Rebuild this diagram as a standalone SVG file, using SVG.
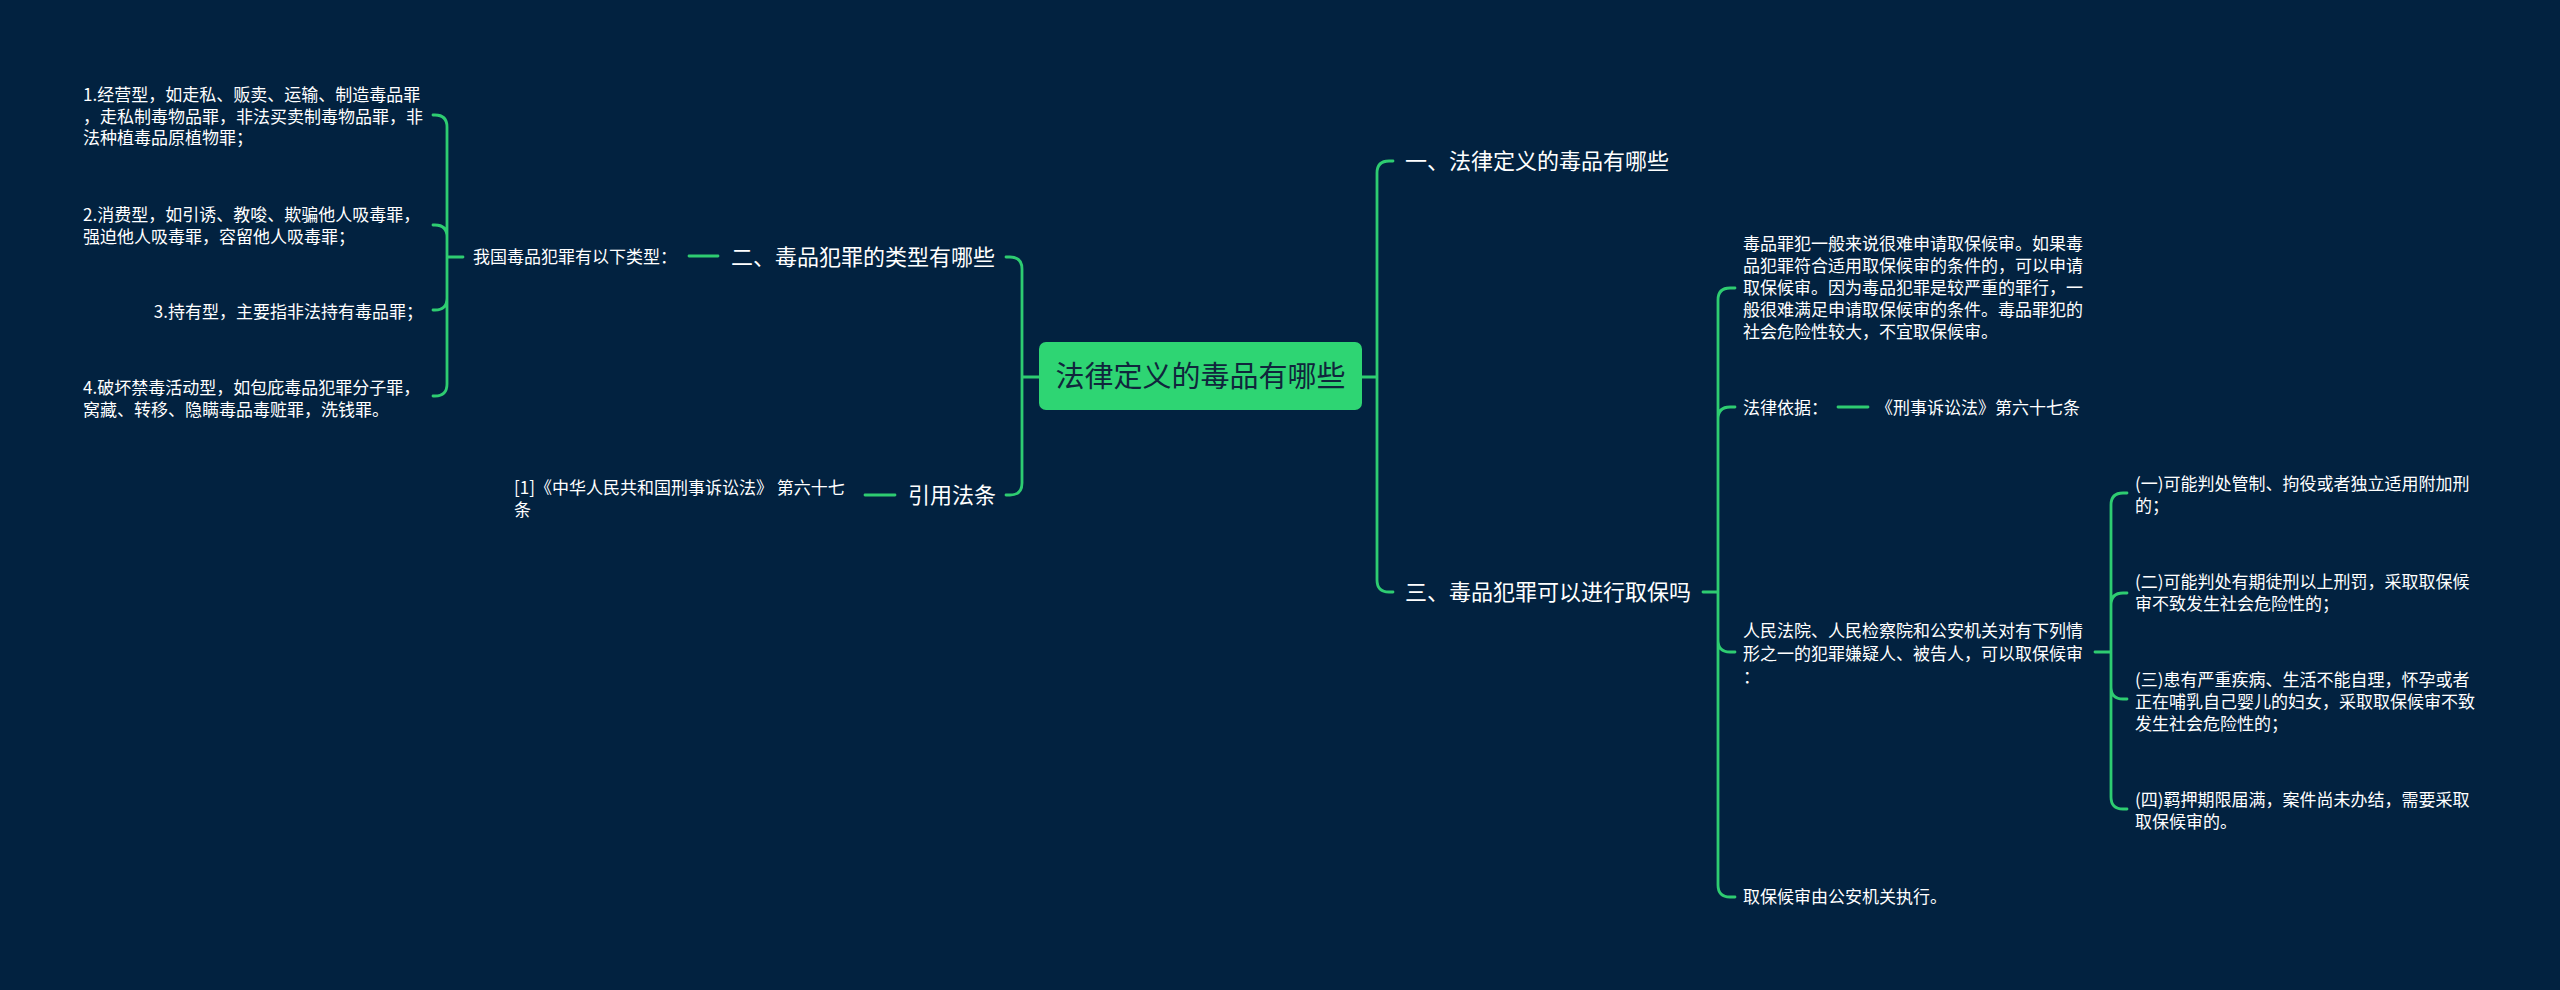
<svg xmlns="http://www.w3.org/2000/svg" width="2560" height="990" viewBox="0 0 2560 990">
<style>
.t{font-family:"Noto Sans CJK SC","Microsoft YaHei",sans-serif;fill:#ffffff}
.s{font-size:17px}
.m{font-size:22px}
.c{font-size:29px;fill:#10263c}
.ln{fill:none;stroke:#2ecc71;stroke-width:2.8;stroke-linecap:round}
</style>
<rect x="0" y="0" width="2560" height="990" fill="#022240"/>
<g id="connectors">
<path class="ln" d="M1362,377 H1377 M1377,377 V173 Q1377,161 1389,161 H1393 M1377,377 V580 Q1377,592 1389,592 H1393"/>
<path class="ln" d="M1039,377 H1022 M1022,377 V269 Q1022,257 1010,257 H1006 M1022,377 V483 Q1022,495 1010,495 H1006"/>
<path class="ln" d="M463,257 H447 M447,257 V127 Q447,115 435,115 H433 M447,257 V237 Q447,225 435,225 H433 M447,257 V298 Q447,310 435,310 H433 M447,257 V384 Q447,396 435,396 H433"/>
<path class="ln" d="M1703,592 H1718 M1718,592 V300 Q1718,288 1730,288 H1735 M1718,592 V419 Q1718,407 1730,407 H1735 M1718,592 V640 Q1718,652 1730,652 H1735 M1718,592 V885 Q1718,897 1730,897 H1735"/>
<path class="ln" d="M2095,652 H2111 M2111,652 V505 Q2111,493 2123,493 H2127 M2111,652 V605 Q2111,593 2123,593 H2127 M2111,652 V687 Q2111,699 2123,699 H2127 M2111,652 V797 Q2111,809 2123,809 H2127"/>
<path class="ln" d="M689,256 H718 M865,495 H895 M1838,407 H1868"/>
</g>
<g id="root">
<rect x="1039" y="342" width="323" height="68" rx="7" fill="#2ed573"/>
<text class="t c" x="1200.5" y="386.5" text-anchor="middle">法律定义的毒品有哪些</text>
</g>
<g id="n1"><text class="t m" x="1405" y="169">一、法律定义的毒品有哪些</text></g>
<g id="n2"><text class="t m" x="731" y="265">二、毒品犯罪的类型有哪些</text></g>
<g id="n3"><text class="t m" x="1405" y="600">三、毒品犯罪可以进行取保吗</text></g>
<g id="n4"><text class="t m" x="908" y="503">引用法条</text></g>
<g id="n2a"><text class="t s" x="473" y="263.3">我国毒品犯罪有以下类型：</text></g>
<g id="n2a1"><text class="t s" x="83" y="101.3"><tspan x="83">1.经营型，如走私、贩卖、运输、制造毒品罪</tspan><tspan x="83" dy="21.5">，走私制毒物品罪，非法买卖制毒物品罪，非</tspan><tspan x="83" dy="21.5">法种植毒品原植物罪；</tspan></text></g>
<g id="n2a2"><text class="t s" x="83" y="221.3"><tspan x="83">2.消费型，如引诱、教唆、欺骗他人吸毒罪，</tspan><tspan x="83" dy="21.5">强迫他人吸毒罪，容留他人吸毒罪；</tspan></text></g>
<g id="n2a3"><text class="t s" x="423" y="318.3" text-anchor="end">3.持有型，主要指非法持有毒品罪；</text></g>
<g id="n2a4"><text class="t s" x="83" y="394.3"><tspan x="83">4.破坏禁毒活动型，如包庇毒品犯罪分子罪，</tspan><tspan x="83" dy="21.5">窝藏、转移、隐瞒毒品毒赃罪，洗钱罪。</tspan></text></g>
<g id="n4a"><text class="t s" x="514" y="494.3"><tspan x="514">[1]《中华人民共和国刑事诉讼法》 第六十七</tspan><tspan x="514" dy="21.5">条</tspan></text></g>
<g id="n3a"><text class="t s" x="1743" y="249.5"><tspan x="1743">毒品罪犯一般来说很难申请取保候审。如果毒</tspan><tspan x="1743" dy="22.2">品犯罪符合适用取保候审的条件的，可以申请</tspan><tspan x="1743" dy="22.2">取保候审。因为毒品犯罪是较严重的罪行，一</tspan><tspan x="1743" dy="22.2">般很难满足申请取保候审的条件。毒品罪犯的</tspan><tspan x="1743" dy="22.2">社会危险性较大，不宜取保候审。</tspan></text></g>
<g id="n3b"><text class="t s" x="1743" y="414">法律依据：</text></g>
<g id="n3b1"><text class="t s" x="1876" y="414">《刑事诉讼法》第六十七条</text></g>
<g id="n3c"><text class="t s" x="1743" y="636.5"><tspan x="1743">人民法院、人民检察院和公安机关对有下列情</tspan><tspan x="1743" dy="23">形之一的犯罪嫌疑人、被告人，可以取保候审</tspan><tspan x="1743" dy="23">：</tspan></text></g>
<g id="n3d"><text class="t s" x="1743" y="903.3">取保候审由公安机关执行。</text></g>
<g id="n3c1"><text class="t s" x="2135" y="490.3"><tspan x="2135">(一)可能判处管制、拘役或者独立适用附加刑</tspan><tspan x="2135" dy="21.5">的；</tspan></text></g>
<g id="n3c2"><text class="t s" x="2135" y="588.3"><tspan x="2135">(二)可能判处有期徒刑以上刑罚，采取取保候</tspan><tspan x="2135" dy="21.5">审不致发生社会危险性的；</tspan></text></g>
<g id="n3c3"><text class="t s" x="2135" y="686.3"><tspan x="2135">(三)患有严重疾病、生活不能自理，怀孕或者</tspan><tspan x="2135" dy="22">正在哺乳自己婴儿的妇女，采取取保候审不致</tspan><tspan x="2135" dy="22">发生社会危险性的；</tspan></text></g>
<g id="n3c4"><text class="t s" x="2135" y="806.3"><tspan x="2135">(四)羁押期限届满，案件尚未办结，需要采取</tspan><tspan x="2135" dy="21.5">取保候审的。</tspan></text></g>
</svg>
